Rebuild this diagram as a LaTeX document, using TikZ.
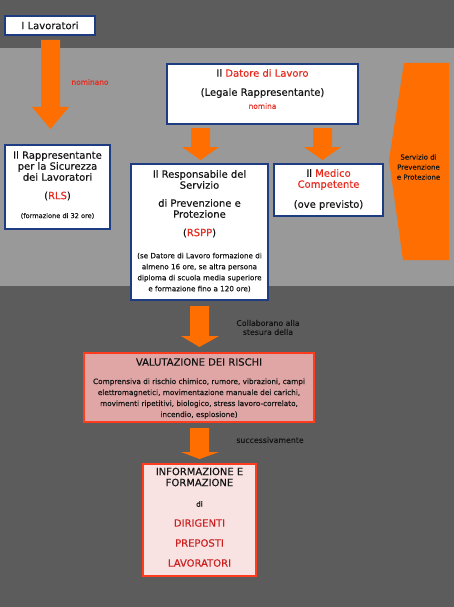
\documentclass[tikz,border=0pt]{standalone}
\usepackage{fontspec}
\setmainfont{DejaVu Sans}[FakeBold=0.25]
\definecolor{bgdark}{HTML}{5C5C5C}
\definecolor{bglight}{HTML}{999999}
\definecolor{arr}{HTML}{FF6E00}
\definecolor{bbord}{HTML}{1E3C82}
\definecolor{rbord}{HTML}{FF3C1E}
\definecolor{vfill}{HTML}{E0A6A6}
\definecolor{ifill}{HTML}{F8E2E2}
\definecolor{red1}{HTML}{E62A1E}
\definecolor{red2}{HTML}{CC2020}
\definecolor{ink}{HTML}{141414}
\tikzset{
  bluebox/.style={draw=bbord, line width=1.4pt, fill=white, inner sep=0pt},
  redbox/.style={draw=rbord, line width=2pt, inner sep=0pt},
  txt/.style={inner sep=0pt, text=ink, font=\fontsize{10}{11}\selectfont},
  small/.style={inner sep=0pt, text=ink, font=\fontsize{7.3}{8}\selectfont},
  lbl/.style={inner sep=0pt, text=ink, font=\fontsize{7.8}{9}\selectfont},
  rlbl/.style={inner sep=0pt, text=red1, font=\fontsize{7.4}{9}\selectfont},
}
\begin{document}
\begin{tikzpicture}[x=1pt,y=-1pt]
\useasboundingbox (0,0) rectangle (454,607);
\fill[bgdark] (0,0) rectangle (454,607);
\fill[bglight] (0,48) rectangle (454,286);

% Boxes
\node[bluebox, minimum width=90pt, minimum height=19pt] (lav) at (50,25.5) {};
\node[bluebox, minimum width=191pt, minimum height=60pt] (dat) at (262.5,94) {};
\node[bluebox, minimum width=105pt, minimum height=84pt] (rls) at (57.5,187) {};
\node[bluebox, minimum width=137pt, minimum height=136pt] (rspp) at (199.5,232) {};
\node[bluebox, minimum width=109pt, minimum height=52pt] (med) at (328.5,190) {};
\node[redbox, fill=vfill, minimum width=230pt, minimum height=69pt] (val) at (199,387.5) {};
\node[redbox, fill=ifill, minimum width=113pt, minimum height=112pt] (inf) at (199.5,520) {};

% Servizio shape
\fill[arr] (404,63) -- (449,63) -- (449,260) -- (403,260) -- (389,160) -- cycle;
\node[small, align=center, font=\fontsize{7}{10}\selectfont] (serv) at (418.5,167) {Servizio di\\Prevenzione\\e Protezione};

% Arrows
\fill[arr] (41,40) -- (60,40) -- (60,107) -- (69,107) -- (50.5,129) -- (32,107) -- (41,107) -- cycle;
\fill[arr] (191,128) -- (210,128) -- (210,147) -- (219,147) -- (200.5,160) -- (182,147) -- (191,147) -- cycle;
\fill[arr] (313,128) -- (332,128) -- (332,147) -- (341,147) -- (322.5,160) -- (304,147) -- (313,147) -- cycle;
\fill[arr] (190,306) -- (209,306) -- (209,336) -- (219,336) -- (199.5,347) -- (181,336) -- (190,336) -- cycle;
\fill[arr] (190,428) -- (209,428) -- (209,452) -- (219,452) -- (199.5,459) -- (181,452) -- (190,452) -- cycle;

% Texts
\node[txt] (t1) at (lav.center) {I Lavoratori};
\node[rlbl] (nom1) at (90,82) {nominano};

\node[txt] (d1) at (262.5,73) {Il \textcolor{red1}{Datore di Lavoro}};
\node[txt] (d2) at (262.5,93) {(Legale Rappresentante)};
\node[rlbl] (d3) at (262.5,106) {nomina};

\node[txt, align=center] (r1) at (57.5,166) {Il Rappresentante\\per la Sicurezza\\dei Lavoratori};
\node[txt] (r2) at (57.5,196) {(\textcolor{red1}{RLS})};
\node[small, font=\fontsize{6.6}{8}\selectfont] (r3) at (57.5,216) {(formazione di 32 ore)};

\node[txt, align=center] (s1) at (199.5,179.5) {Il Responsabile del\\Servizio};
\node[txt, align=center] (s2) at (199.5,208.5) {di Prevenzione e\\Protezione};
\node[txt] (s3) at (199.5,233) {(\textcolor{red1}{RSPP})};
\node[small, align=center, font=\fontsize{7.2}{11}\selectfont] (s4) at (199.5,272.5) {(se Datore di Lavoro formazione di\\almeno 16 ore, se altra persona\\diploma di scuola media superiore\\e formazione fino a 120 ore)};

\node[txt, align=center] (m1) at (328.5,179.5) {Il \textcolor{red1}{Medico}\\\textcolor{red1}{Competente}};
\node[txt] (m2) at (328.5,205) {(ove previsto)};

\node[lbl, align=center] (c1) at (268,327.5) {Collaborano alla\\stesura della};

\node[txt] (v1) at (199,362) {VALUTAZIONE DEI RISCHI};
\node[small, align=center, font=\fontsize{7.3}{11}\selectfont] (v2) at (199,398.5) {Comprensiva di rischio chimico, rumore, vibrazioni, campi\\elettromagnetici, movimentazione manuale dei carichi,\\movimenti ripetitivi, biologico, stress lavoro-correlato,\\incendio, esplosione)};

\node[lbl] (succ) at (270,440) {successivamente};

\node[txt, align=center] (i1) at (199.5,477) {INFORMAZIONE E\\FORMAZIONE};
\node[small] (i2) at (199.5,504) {di};
\node[txt, text=red2] (i3) at (199.5,523) {DIRIGENTI};
\node[txt, text=red2] (i4) at (199.5,543) {PREPOSTI};
\node[txt, text=red2] (i5) at (199.5,563) {LAVORATORI};
\end{tikzpicture}
\end{document}
